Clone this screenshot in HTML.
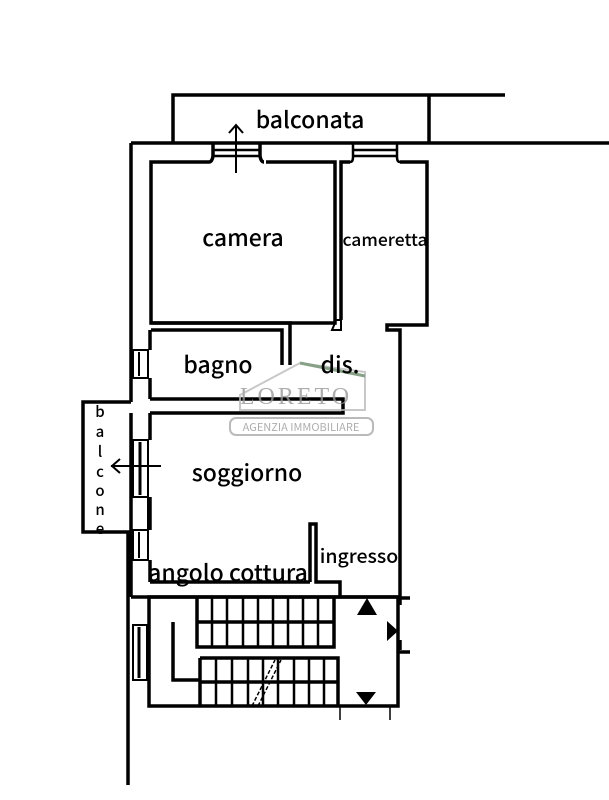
<!DOCTYPE html>
<html><head><meta charset="utf-8"><style>
html,body{margin:0;padding:0;background:#fff;}
svg{display:block;}
text{font-family:"Noto Sans CJK JP","DejaVu Sans",sans-serif;font-weight:500;fill:#000;}
</style></head><body>
<svg width="609" height="800" viewBox="0 0 609 800" xmlns="http://www.w3.org/2000/svg">
<g fill="none" stroke="#000" stroke-width="3.5">
<path d="M173 143 V95 H505"/>
<path d="M429 95 V143"/>
<path d="M131 143 H609"/>
<path d="M131 143 V402"/>
<path d="M128 532 V785"/>
<path d="M131 532 V597"/>
<path d="M209 162 H151 V323 H335 V162 H266"/>
<path d="M209 162 q3 0 4 -6 V143 M264 162 q-3 0 -4 -6 V143"/>
<path d="M213 156 H260 M213 150 H260" stroke-width="2.5"/>
<path d="M341 320 V162 H350 M400 162 H427 V325 H387 V330 H400 V595"/>
<path d="M350 162 q3 0 3 -5 V143 M400 162 q-3 0 -3 -5 V143 M353 156 H397 M353 150 H397" stroke-width="2.5"/>
<path d="M335 323 V320 H341 V330 H332 Z" stroke-width="2"/>
<path d="M151 323 H290 V365 M282 365 V330 H151"/>
<path d="M150 330 V350 M150 378 V399"/>
<path d="M150 399 H343 V413 H150"/>
<rect x="133" y="350" width="15" height="28" stroke-width="2"/>
<path d="M139 352 V376" stroke-width="2"/>
<path d="M131 402 H83 V532 H131 V413"/>
<path d="M150 413 V440 M150 497 V530 M150 560 V582"/>
<rect x="133" y="440" width="15" height="57" stroke-width="2"/>
<path d="M140 442 V495" stroke-width="3"/>
<path d="M133 497 H148 V530 H133" stroke-width="2"/>
<rect x="133" y="530" width="15" height="30" stroke-width="2"/>
<path d="M139 532 V558" stroke-width="2"/>
<path d="M236 173 V125 M229 133 L236 125 L243 133" stroke-width="2"/>
<path d="M161 466 H111 M120 459 L112 466 L120 473" stroke-width="2"/>
<path d="M310 582 V524 H316 V582 H340 V597"/>
<path d="M150 582 H310"/>
<path d="M131 597 H400"/>
<path d="M400 595 V605 M400 640 V650 M398 598 H410 M398 652 H410"/>
<rect x="149" y="597" width="249" height="109"/>
<path d="M197 597 V647 H334 V597 M197 622 H334"/>
<path d="M173 622 V680 H200"/>
<path d="M200 658 H338 V706 M200 658 V706 M200 682 H338"/>
<path d="M212 597 V647 M227 597 V647 M243 597 V647 M258 597 V647 M273 597 V647 M288 597 V647 M303 597 V647 M318 597 V647" stroke-width="2.5"/>
<path d="M216 658 V706 M232 658 V706 M248 658 V706 M263 658 V706 M278 658 V706 M294 658 V706 M309 658 V706 M324 658 V706" stroke-width="2.5"/>
<path d="M252 706 L275 660 M258 706 L281 660" stroke-width="1.5" stroke-dasharray="4 2"/>
<rect x="133" y="625" width="14" height="55" stroke-width="2"/>
<path d="M139 627 V678" stroke-width="3"/>
<path d="M340 706 V720 M390 706 V720" stroke-width="1.5"/>
</g>
<polygon points="367,598 357,615 377,615" fill="#000"/>
<polygon points="387,621 398,631 387,641" fill="#000"/>
<polygon points="356,692 376,692 366,705" fill="#000"/>
<g opacity="0.8">
<path d="M240 395 L300 363 L365 372 V410 H240 Z" fill="none" stroke="#bbb" stroke-width="2"/>
<path d="M300 363 L365 376" stroke="#6a8a6a" stroke-width="3"/>
<text x="296" y="404" font-size="24" text-anchor="middle" style="fill:#999;font-family:'Liberation Serif',serif" letter-spacing="3">LORETO</text>
<rect x="230" y="418" width="143" height="17" rx="6" fill="none" stroke="#aaa" stroke-width="2"/>
<text x="301" y="431" font-size="11" text-anchor="middle" style="fill:#999;font-weight:400">AGENZIA IMMOBILIARE</text>
</g>
<text x="310" y="128" font-size="23" text-anchor="middle">balconata</text>
<text x="243" y="246" font-size="23" text-anchor="middle">camera</text>
<text x="385" y="246" font-size="17.5" text-anchor="middle">cameretta</text>
<text x="218" y="373" font-size="23" text-anchor="middle">bagno</text>
<text x="340" y="373" font-size="23" text-anchor="middle">dis.</text>
<text x="247" y="481" font-size="23" text-anchor="middle">soggiorno</text>
<text x="228" y="581" font-size="23" text-anchor="middle">angolo cottura</text>
<text x="359" y="563" font-size="19.5" text-anchor="middle">ingresso</text>
<g font-size="15" text-anchor="middle">
<text x="100" y="417">b</text><text x="100" y="437">a</text><text x="100" y="457">l</text>
<text x="100" y="477">c</text><text x="100" y="496">o</text><text x="100" y="515">n</text><text x="100" y="534">e</text>
</g>
</svg>
</body></html>
